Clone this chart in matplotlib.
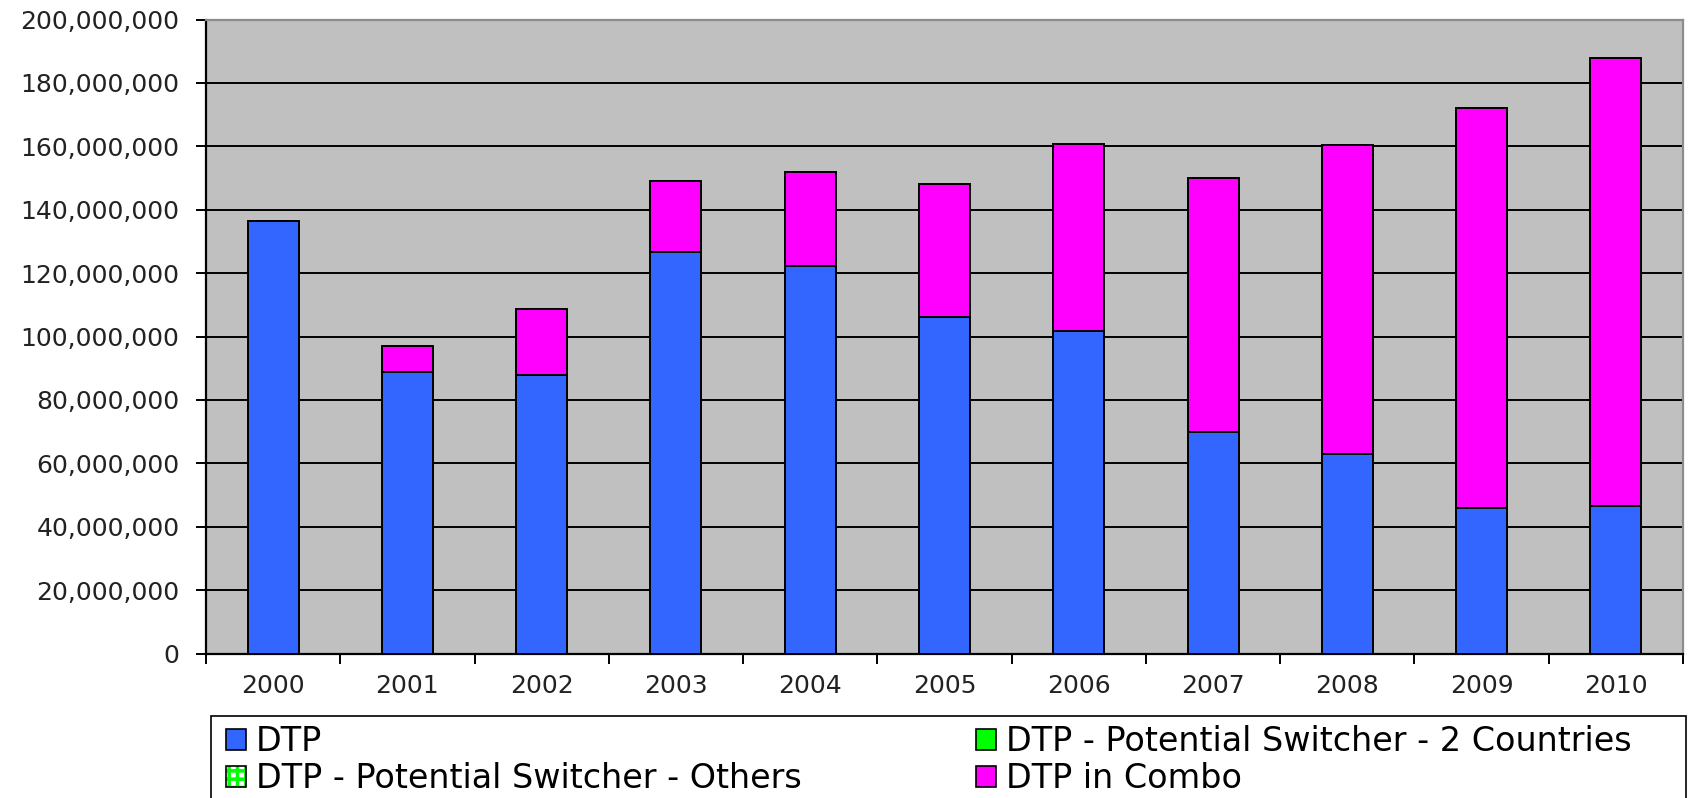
import matplotlib.pyplot as plt
from matplotlib.patches import Patch, Rectangle
from matplotlib.legend_handler import HandlerTuple
from matplotlib.ticker import FuncFormatter, MultipleLocator
import numpy as np

# Values (doses)
years = ["2000", "2001", "2002", "2003", "2004", "2005", "2006", "2007", "2008", "2009", "2010"]
dtp = [136.5e6, 88.8e6, 87.8e6, 126.8e6, 122.3e6, 106.2e6, 101.6e6, 69.9e6, 62.9e6, 46.0e6, 46.4e6]
switcher_2 = [0, 0, 0, 0, 0, 0, 0, 0, 0, 0, 0]
switcher_others = [0, 0, 0, 0, 0, 0, 0, 0, 0, 0, 0]
dtp_combo = [0, 8.1e6, 20.8e6, 22.3e6, 29.7e6, 42.0e6, 59.2e6, 80.1e6, 97.5e6, 126.2e6, 141.4e6]

blue = "#3366FF"
green = "#00FF00"
magenta = "#FF00FF"

plt.rcParams['font.family'] = ['DejaVu Sans']
plt.rcParams['hatch.linewidth'] = 2.5

W, H = 1691, 798
fig = plt.figure(figsize=(W / 100, H / 100), dpi=100)
ax = fig.add_axes([206 / W, (H - 653.5) / H, (1683 - 206) / W, 634 / H])
ax.set_facecolor("#C0C0C0")

x = np.arange(len(years))
w = 0.38
ax.bar(x, dtp, w, color=blue, edgecolor="black", linewidth=1.4, zorder=3)
b2 = np.array(dtp)
ax.bar(x, switcher_2, w, bottom=b2, color=green, edgecolor="none", zorder=3)
b3 = b2 + np.array(switcher_2)
ax.bar(x, switcher_others, w, bottom=b3, color="white", edgecolor="none", zorder=3)
b4 = b3 + np.array(switcher_others)
ax.bar(x, dtp_combo, w, bottom=b4, color=magenta, edgecolor="black", linewidth=1.4, zorder=3)

ax.set_xlim(-0.5, len(years) - 0.5)
ax.set_ylim(0, 200e6)
ax.yaxis.set_major_locator(MultipleLocator(20e6))
ax.yaxis.set_major_formatter(FuncFormatter(lambda v, p: f"{v:,.0f}"))
ax.grid(axis="y", color="black", linewidth=1.4, zorder=1)
ax.set_axisbelow(True)

ax.set_xticks(x)
ax.set_xticklabels(years)
ax.set_xticks(np.arange(len(years) + 1) - 0.5, minor=True)
ax.tick_params(axis="x", which="major", length=0, pad=15, labelsize=18, labelcolor="#222222")
ax.tick_params(axis="x", which="minor", length=7, width=1.4, direction="out")
ax.tick_params(axis="y", length=7, width=1.4, pad=12, labelsize=18, labelcolor="#222222")

for s in ["left", "bottom"]:
    ax.spines[s].set_color("black")
    ax.spines[s].set_linewidth(1.6)
for s in ["top", "right"]:
    ax.spines[s].set_color("#8C8C8C")
    ax.spines[s].set_linewidth(1.6)

# Legend box, cut off by the bottom of the image as in the original
fig.patches.append(Rectangle((211 / W, -0.05), (1686 - 211) / W, (H - 716) / H + 0.05,
                             transform=fig.transFigure, facecolor="white",
                             edgecolor="black", linewidth=1.2, clip_on=False))

h_dtp = Patch(facecolor=blue, edgecolor="black", linewidth=1.2)
h_others = (Patch(facecolor="white", edgecolor=green, hatch="++", linewidth=0),
            Patch(facecolor="none", edgecolor="black", linewidth=1.2))
h_two = Patch(facecolor=green, edgecolor="black", linewidth=1.2)
h_combo = Patch(facecolor=magenta, edgecolor="black", linewidth=1.2)

leg_kw = dict(loc="upper left", fontsize=24, frameon=False,
              handlelength=0.6, handleheight=0.6, handletextpad=0.3,
              labelspacing=0.13, borderpad=0, borderaxespad=0,
              handler_map={tuple: HandlerTuple(ndivide=1, pad=0)})
leg_top = 1 - (744.5 - 19.4) / H
leg1 = fig.legend([h_dtp, h_others], ["DTP", "DTP - Potential Switcher - Others"],
                  bbox_to_anchor=(226 / W, leg_top), **leg_kw)
leg2 = fig.legend([h_two, h_combo], ["DTP - Potential Switcher - 2 Countries", "DTP in Combo"],
                  bbox_to_anchor=(976 / W, leg_top), **leg_kw)

fig.savefig("out.png", dpi=100)
